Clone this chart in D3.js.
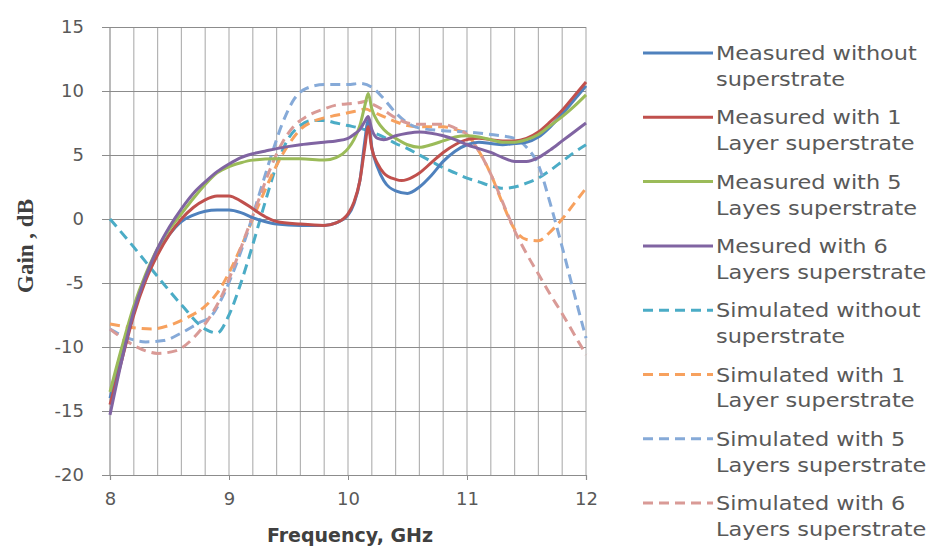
<!DOCTYPE html>
<html>
<head>
<meta charset="utf-8">
<script src="https://cdn.jsdelivr.net/npm/d3@7"></script>
<style>
  body { margin: 0; background: #fff; }
  svg text { fill: #595959; }
</style>
</head>
<body>
<svg id="chart" width="930" height="546"></svg>
<script>
// values: [GHz, dB]
const measuredWithout = [
  [8.0, -14.0], [8.1, -10.5], [8.2, -7.0], [8.3, -4.5], [8.4, -2.6], [8.5, -1.2],
  [8.6, -0.2], [8.7, 0.3], [8.8, 0.6], [8.9, 0.7], [9.0, 0.7], [9.1, 0.5],
  [9.2, 0.1], [9.3, -0.2], [9.4, -0.4], [9.6, -0.5], [9.8, -0.5], [9.9, -0.3],
  [10.0, 0.3], [10.05, 1.2], [10.1, 3.0], [10.14, 6.0], [10.17, 7.7], [10.2, 5.6],
  [10.25, 4.0], [10.3, 3.0], [10.4, 2.2], [10.5, 2.0], [10.6, 2.5], [10.7, 3.4],
  [10.8, 4.5], [10.9, 5.3], [11.0, 5.8], [11.1, 6.0], [11.2, 5.9], [11.3, 5.8],
  [11.4, 5.9], [11.5, 6.0], [11.6, 6.4], [11.7, 7.2], [11.8, 8.2], [11.9, 9.3], [12.0, 10.4]
];
const measuredOneLayer = [
  [8.0, -14.5], [8.1, -11.0], [8.2, -7.5], [8.3, -4.8], [8.4, -2.8], [8.5, -1.2],
  [8.6, 0.0], [8.7, 0.9], [8.8, 1.5], [8.9, 1.8], [9.0, 1.8], [9.1, 1.4],
  [9.2, 0.8], [9.3, 0.2], [9.4, -0.2], [9.6, -0.4], [9.8, -0.5], [9.9, -0.3],
  [10.0, 0.4], [10.05, 1.3], [10.1, 3.0], [10.14, 5.5], [10.17, 7.2], [10.2, 5.5],
  [10.25, 4.3], [10.3, 3.6], [10.4, 3.1], [10.45, 3.0], [10.5, 3.1], [10.6, 3.6],
  [10.7, 4.4], [10.8, 5.2], [10.9, 5.8], [11.0, 6.2], [11.1, 6.3], [11.2, 6.2],
  [11.3, 6.1], [11.4, 6.1], [11.5, 6.3], [11.6, 6.8], [11.7, 7.6], [11.8, 8.5],
  [11.9, 9.6], [12.0, 10.7]
];
const measuredFiveLayers = [
  [8.0, -13.5], [8.1, -10.0], [8.2, -6.8], [8.3, -4.3], [8.4, -2.3], [8.5, -0.8],
  [8.6, 0.4], [8.7, 1.6], [8.8, 2.7], [8.9, 3.6], [9.0, 4.1], [9.1, 4.4],
  [9.2, 4.6], [9.4, 4.7], [9.6, 4.7], [9.8, 4.6], [9.9, 4.8], [10.0, 5.5],
  [10.05, 6.2], [10.1, 7.3], [10.14, 8.8], [10.17, 9.8], [10.2, 8.6], [10.25, 7.6],
  [10.3, 7.0], [10.4, 6.3], [10.5, 5.8], [10.6, 5.6], [10.7, 5.8], [10.8, 6.1],
  [10.9, 6.4], [11.0, 6.5], [11.1, 6.4], [11.2, 6.2], [11.3, 6.0], [11.4, 6.0],
  [11.5, 6.2], [11.6, 6.6], [11.7, 7.3], [11.8, 8.0], [11.9, 8.8], [12.0, 9.7]
];
const measuredSixLayers = [
  [8.0, -15.3], [8.1, -11.0], [8.2, -7.2], [8.3, -4.5], [8.4, -2.3], [8.5, -0.6],
  [8.6, 0.8], [8.7, 2.0], [8.8, 2.9], [8.9, 3.7], [9.0, 4.3], [9.1, 4.8],
  [9.2, 5.1], [9.3, 5.3], [9.4, 5.5], [9.6, 5.8], [9.8, 6.0], [9.9, 6.1],
  [10.0, 6.3], [10.05, 6.6], [10.1, 7.0], [10.14, 7.6], [10.17, 8.0], [10.2, 7.0],
  [10.25, 6.3], [10.3, 6.2], [10.4, 6.5], [10.5, 6.7], [10.6, 6.8], [10.7, 6.7],
  [10.8, 6.5], [10.9, 6.2], [11.0, 5.8], [11.1, 5.5], [11.2, 5.2], [11.3, 4.8],
  [11.4, 4.5], [11.5, 4.5], [11.6, 4.8], [11.7, 5.4], [11.8, 6.1], [11.9, 6.8], [12.0, 7.5]
];
const simulatedWithout = [
  [8.0, 0.0], [8.2, -2.2], [8.4, -4.5], [8.6, -6.7], [8.8, -8.6], [8.9, -8.9],
  [9.0, -7.5], [9.1, -5.0], [9.2, -2.0], [9.3, 1.2], [9.4, 4.2], [9.5, 6.3],
  [9.6, 7.3], [9.7, 7.7], [9.8, 7.7], [9.9, 7.5], [10.0, 7.3], [10.1, 7.1],
  [10.2, 6.8], [10.3, 6.4], [10.4, 5.9], [10.5, 5.5], [10.6, 5.0], [10.7, 4.5],
  [10.8, 4.0], [10.9, 3.6], [11.0, 3.2], [11.1, 2.9], [11.2, 2.6], [11.3, 2.4],
  [11.4, 2.5], [11.5, 2.8], [11.6, 3.2], [11.7, 3.8], [11.8, 4.5], [11.9, 5.2], [12.0, 5.8]
];
const simulatedOneLayer = [
  [8.0, -8.2], [8.2, -8.5], [8.35, -8.6], [8.5, -8.3], [8.65, -7.7], [8.8, -6.8],
  [8.9, -5.8], [9.0, -4.2], [9.1, -2.2], [9.2, 0.0], [9.3, 2.2], [9.4, 4.2],
  [9.5, 5.8], [9.6, 7.0], [9.7, 7.6], [9.8, 7.9], [9.9, 8.1], [10.0, 8.3],
  [10.1, 8.5], [10.15, 8.6], [10.2, 8.4], [10.3, 8.0], [10.4, 7.6], [10.5, 7.3],
  [10.6, 7.2], [10.7, 7.2], [10.8, 7.2], [10.9, 7.0], [11.0, 6.6], [11.1, 5.3],
  [11.2, 3.5], [11.3, 1.2], [11.4, -0.8], [11.5, -1.6], [11.6, -1.7], [11.7, -1.0],
  [11.8, 0.0], [11.9, 1.2], [12.0, 2.4]
];
const simulatedFiveLayers = [
  [8.0, -8.6], [8.15, -9.3], [8.3, -9.6], [8.45, -9.5], [8.6, -8.9], [8.75, -8.1],
  [8.85, -7.6], [8.95, -6.0], [9.05, -3.8], [9.15, -1.2], [9.25, 1.8], [9.35, 4.8],
  [9.45, 7.5], [9.55, 9.4], [9.65, 10.2], [9.8, 10.5], [10.0, 10.5], [10.1, 10.6],
  [10.2, 10.3], [10.3, 9.4], [10.4, 8.3], [10.5, 7.5], [10.6, 7.1], [10.8, 6.9],
  [11.0, 6.8], [11.2, 6.6], [11.4, 6.3], [11.5, 5.6], [11.6, 4.2], [11.7, 1.2],
  [11.8, -2.2], [11.9, -5.8], [12.0, -9.3]
];
const simulatedSixLayers = [
  [8.0, -8.6], [8.15, -9.6], [8.3, -10.3], [8.4, -10.5], [8.55, -10.3], [8.7, -9.3],
  [8.85, -7.5], [8.95, -5.8], [9.05, -3.5], [9.15, -1.0], [9.25, 1.5], [9.35, 4.0],
  [9.45, 6.0], [9.55, 7.3], [9.65, 8.0], [9.8, 8.6], [9.9, 8.9], [10.0, 9.0],
  [10.1, 9.1], [10.15, 9.2], [10.2, 9.0], [10.3, 8.5], [10.4, 7.9], [10.5, 7.5],
  [10.6, 7.4], [10.7, 7.4], [10.8, 7.4], [10.9, 7.1], [11.0, 6.6], [11.1, 5.3],
  [11.2, 3.5], [11.3, 1.3], [11.4, -0.9], [11.5, -2.7], [11.6, -4.3], [11.7, -5.9],
  [11.8, -7.4], [11.9, -9.0], [12.0, -10.6]
];

const seriesNames = [
  ["Measured without", "superstrate"],
  ["Measured with 1", "Layer superstrate"],
  ["Measured with 5", "Layes superstrate"],
  ["Mesured with 6", "Layers superstrate"],
  ["Simulated without", "superstrate"],
  ["Simulated with 1", "Layer superstrate"],
  ["Simulated with 5", "Layers superstrate"],
  ["Simulated with 6", "Layers superstrate"]
];
const seriesValues = [
  measuredWithout, measuredOneLayer, measuredFiveLayers, measuredSixLayers,
  simulatedWithout, simulatedOneLayer, simulatedFiveLayers, simulatedSixLayers
];
const seriesColors = [
  "#4f81bd", "#c0504d", "#9bbb59", "#8064a2",
  "#4bacc6", "#f7a15e", "#86aad8", "#d99a96"
];
const seriesDashed = [false, false, false, false, true, true, true, true];

const xTicks = [8, 9, 10, 11, 12];
const yTicks = [-20, -15, -10, -5, 0, 5, 10, 15];

const MARGIN = { left: 110, top: 27 };
const WIDTH = 476;
const HEIGHT = 448;

const svg = d3.select("#chart");
const g = svg.append("g").attr("transform", `translate(${MARGIN.left},${MARGIN.top})`);

const x = d3.scaleLinear().domain([8, 12]).range([0, WIDTH]);
const y = d3.scaleLinear().domain([-20, 15]).range([HEIGHT, 0]);

// vertical grid every 0.2 GHz
g.append("g")
  .selectAll("line")
  .data(d3.range(8.2, 12.01, 0.2))
  .join("line")
  .attr("x1", d => x(d)).attr("x2", d => x(d))
  .attr("y1", 0).attr("y2", HEIGHT)
  .attr("stroke", "#b4b4b4")
  .attr("stroke-width", 1.2);

// horizontal grid with the axis ticks
const yAxis = d3.axisLeft(y).tickValues(yTicks).tickFormat(d => String(d))
  .tickSize(-WIDTH - 8).tickPadding(18);
g.append("g")
  .attr("class", "y axis")
  .attr("transform", "translate(-8,0)")
  .call(yAxis)
  .call(a => a.select(".domain").remove())
  .call(a => a.selectAll("line").attr("stroke", "#8c8c8c").attr("stroke-width", 1.2))
  .call(a => a.selectAll("text")
    .attr("font-family", "DejaVu Sans").attr("font-size", 18).style("fill", "#595959"));

g.append("line")
  .attr("x1", 0).attr("x2", 0).attr("y1", 0).attr("y2", HEIGHT)
  .attr("stroke", "#8c8c8c").attr("stroke-width", 1.2);

const xAxis = d3.axisBottom(x).tickValues(xTicks).tickFormat(d => String(d))
  .tickSize(5).tickPadding(12);
g.append("g")
  .attr("class", "x axis")
  .attr("transform", `translate(0,${HEIGHT})`)
  .call(xAxis)
  .call(a => a.select(".domain").attr("stroke", "#8c8c8c").attr("stroke-width", 1.2))
  .call(a => a.selectAll("line").attr("stroke", "#8c8c8c"))
  .call(a => a.selectAll("text")
    .attr("font-family", "DejaVu Sans").attr("font-size", 18).style("fill", "#595959"));

// curves
const line = d3.line()
  .x(d => x(d[0]))
  .y(d => y(d[1]))
  .curve(d3.curveMonotoneX);

const order = [4, 5, 6, 7, 0, 1, 2, 3];
g.append("g")
  .selectAll("path")
  .data(order)
  .join("path")
  .attr("d", i => line(seriesValues[i]))
  .attr("fill", "none")
  .attr("stroke", i => seriesColors[i])
  .attr("stroke-width", 3)
  .attr("stroke-dasharray", i => seriesDashed[i] ? "10,6" : null);

// axis titles
svg.append("text")
  .attr("x", 350).attr("y", 542)
  .attr("text-anchor", "middle")
  .attr("font-family", "DejaVu Sans").attr("font-weight", "bold").attr("font-size", 19)
  .style("fill", "#404040")
  .text("Frequency, GHz");

svg.append("text")
  .attr("transform", "translate(33,246) rotate(-90)")
  .attr("text-anchor", "middle")
  .attr("font-family", "Liberation Serif").attr("font-weight", "bold").attr("font-size", 23)
  .style("fill", "#404040")
  .text("Gain , dB");

// legend
const legend = svg.append("g").attr("transform", "translate(643,53)");
const item = legend.selectAll("g")
  .data(seriesNames)
  .join("g")
  .attr("transform", (d, i) => `translate(0,${i * 64.3})`);

item.append("line")
  .attr("x1", 0).attr("x2", 70)
  .attr("stroke", (d, i) => seriesColors[i])
  .attr("stroke-width", 3)
  .attr("stroke-dasharray", (d, i) => seriesDashed[i] ? "10,6" : null);

item.append("text")
  .attr("transform", "translate(73,0) scale(1.18,1)")
  .attr("font-family", "DejaVu Sans").attr("font-size", 19)
  .style("fill", "#595959")
  .selectAll("tspan")
  .data(d => d)
  .join("tspan")
  .attr("x", 0)
  .attr("y", (d, i) => 7 + i * 26)
  .text(d => d);
</script>
</body>
</html>
